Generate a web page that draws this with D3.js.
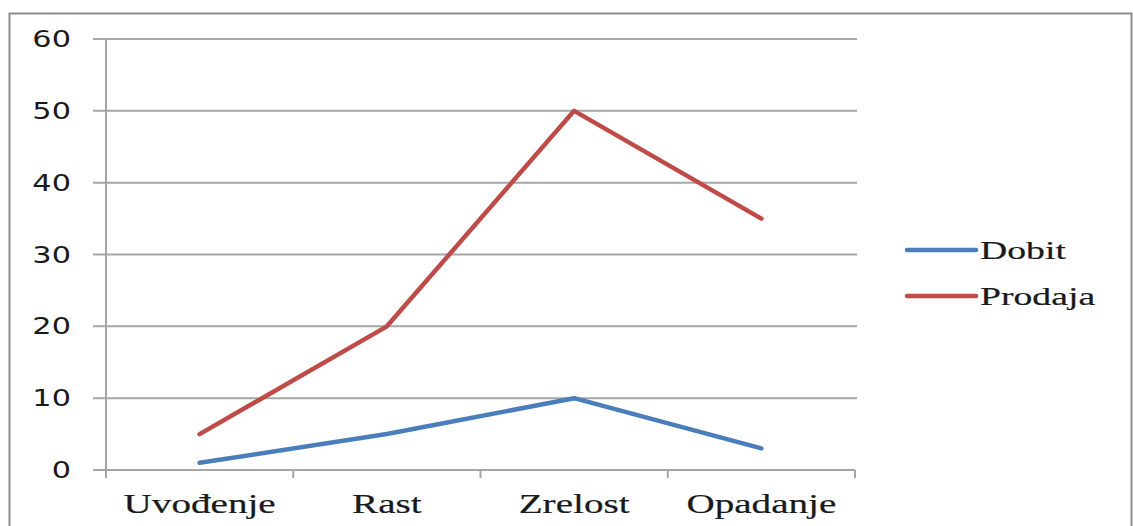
<!DOCTYPE html>
<html lang="sr">
<head>
  <meta charset="UTF-8" />
  <title>Životni ciklus proizvoda</title>
  <script src="https://d3js.org/d3.v7.min.js"></script>
  <style>
    body {margin: 0; background: #fff;}
    svg {display: block;}
    .serif {font-family: "Liberation Serif", "Times New Roman", serif; fill: #1a1a1a;
            stroke: #1a1a1a; stroke-width: 0.2px;}
    .sans {font-family: "DejaVu Sans", Verdana, sans-serif; fill: #1a1a1a;}
  </style>
</head>
<body>
<script>
  // data
  const categories = ["Uvođenje", "Rast", "Zrelost", "Opadanje"];
  const dobit = [1, 5, 10, 3];
  const prodaja = [5, 20, 50, 35];
  const yTicks = [0, 10, 20, 30, 40, 50, 60];
  const seriesNames = ["Dobit", "Prodaja"];
  const seriesColors = ["#4a7ebb", "#be4b48"];

  //****CANVAS****
  const width = 1133;
  const height = 526;
  const plotLeft = 106, plotRight = 855, plotTop = 39, plotBottom = 470;
  const gridColor = "#a6a6a6";
  const stretch = 1.45; // the picture is wider than it is tall, text included

  const svg = d3.select("body").append("svg")
                .attr("width", width)
                .attr("height", height);

  // outer frame
  svg.append("rect")
     .attr("x", 9.5).attr("y", 13.5)
     .attr("width", 1122).attr("height", 540)
     .attr("fill", "none")
     .attr("stroke", "#8c8c8c")
     .attr("stroke-width", 2);

  //****SCALES****
  const xScale = d3.scaleBand()
                   .domain(categories)
                   .range([plotLeft, plotRight]);
  const yScale = d3.scaleLinear()
                   .domain([0, 60])
                   .range([plotBottom, plotTop]);
  const xMid = (c) => xScale(c) + xScale.bandwidth() / 2;

  //****GRIDLINES + AXES****
  svg.append("g").selectAll("line")
     .data(yTicks.filter((d) => d > 0))
     .join("line")
     .attr("x1", plotLeft - 13).attr("x2", plotRight + 2)
     .attr("y1", (d) => yScale(d)).attr("y2", (d) => yScale(d))
     .attr("stroke", gridColor).attr("stroke-width", 2);

  svg.append("line")
     .attr("x1", plotLeft).attr("x2", plotLeft)
     .attr("y1", plotTop).attr("y2", plotBottom + 8)
     .attr("stroke", gridColor).attr("stroke-width", 2);

  svg.append("line")
     .attr("x1", plotLeft - 13).attr("x2", plotRight)
     .attr("y1", plotBottom).attr("y2", plotBottom)
     .attr("stroke", gridColor).attr("stroke-width", 2);

  // x tick marks on the band edges
  const edges = categories.map((c) => xScale(c)).concat([xScale.range()[1]]);
  svg.append("g").selectAll("line")
     .data(edges)
     .join("line")
     .attr("x1", (d) => d).attr("x2", (d) => d)
     .attr("y1", plotBottom).attr("y2", plotBottom + 8)
     .attr("stroke", gridColor).attr("stroke-width", 2);

  svg.append("g").selectAll("text")
     .data(yTicks)
     .join("text")
     .attr("class", "sans")
     .attr("font-size", 23)
     .attr("text-anchor", "end")
     .attr("transform", (d) => `translate(71, ${yScale(d) + 8}) scale(1.32,1)`)
     .text((d) => d);

  svg.append("g").selectAll("text")
     .data(categories)
     .join("text")
     .attr("class", "serif")
     .attr("font-size", 27)
     .attr("text-anchor", "middle")
     .attr("transform", (d) => `translate(${xMid(d)}, 513) scale(${stretch},1)`)
     .text((d) => d);

  //****LINES****
  const lineGenerator = d3.line()
                          .x((d, i) => xMid(categories[i]))
                          .y((d) => yScale(d));

  svg.append("g").selectAll("path")
     .data([dobit, prodaja])
     .join("path")
     .attr("d", (d) => lineGenerator(d))
     .attr("fill", "none")
     .attr("stroke", (d, i) => seriesColors[i])
     .attr("stroke-width", 4.5)
     .attr("stroke-linejoin", "round")
     .attr("stroke-linecap", "round");

  //****LEGEND****
  const legend = svg.append("g").selectAll("g")
                    .data(seriesNames)
                    .join("g")
                    .attr("transform", (d, i) => `translate(907, ${250 + i * 46})`);

  legend.append("line")
        .attr("x1", 0).attr("x2", 69)
        .attr("stroke", (d, i) => seriesColors[i])
        .attr("stroke-width", 4.5)
        .attr("stroke-linecap", "round");

  legend.append("text")
        .attr("class", "serif")
        .attr("font-size", 26)
        .attr("transform", `translate(73, 9) scale(${stretch},1)`)
        .text((d) => d);
</script>
</body>
</html>
